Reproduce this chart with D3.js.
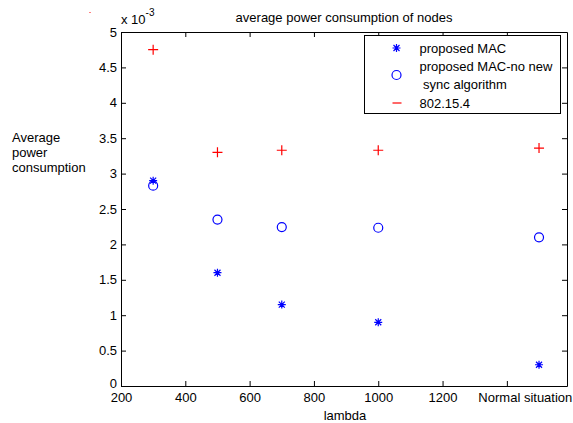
<!DOCTYPE html>
<html>
<head>
<meta charset="utf-8">
<script src="https://cdn.jsdelivr.net/npm/d3@7"></script>
<style>
  body { margin: 0; background: #fff; }
  text { font-family: Arial, "Liberation Sans", sans-serif; fill: #000; }
</style>
</head>
<body>
<svg id="chart"></svg>
<script>
(() => {

  // x positions of each case (last one is the "Normal situation" column)
  const lambdas = [300, 500, 700, 1000, 1500];
  const proposedMac = [2.90, 1.60, 1.15, 0.90, 0.30];
  const noSyncMac = [2.83, 2.35, 2.245, 2.235, 2.10];
  const ieee802154 = [4.75, 3.30, 3.33, 3.33, 3.36];

  const xTicks = [200, 400, 600, 800, 1000, 1200, 1400];
  const xTickLabels = ['200', '400', '600', '800', '1000', '1200', 'Normal situation'];
  const yTicks = [0, 0.5, 1, 1.5, 2, 2.5, 3, 3.5, 4, 4.5, 5];

  const svgWidth = 573;
  const svgHeight = 423;
  const margin = { top: 32, left: 121, right: 6, bottom: 37 };
  const width = svgWidth - (margin.left + margin.right);
  const height = svgHeight - (margin.top + margin.bottom);

  const svg = d3.select('#chart')
    .attr('width', svgWidth)
    .attr('height', svgHeight);

  const g = svg.append('g')
    .attr('transform', `translate(${margin.left}, ${margin.top})`);

  const xScale = d3.scaleLinear()
    .domain([200, 1587])
    .range([0, width]);

  const yScale = d3.scaleLinear()
    .domain([0, 5])
    .range([height, 0]);

  // box + inward ticks
  const xAxis = g.append('g')
    .attr('transform', `translate(0, ${height})`)
    .call(d3.axisBottom(xScale).tickValues(xTicks).tickSizeInner(-5).tickSizeOuter(0)
      .tickPadding(4).tickFormat((d, i) => xTickLabels[i]));
  xAxis.selectAll('text').attr('font-size', 13).attr('dy', '0.9em');
  // the last label starts left of its tick, as in the original
  xAxis.selectAll('.tick').filter((d, i) => i === xTicks.length - 1)
    .select('text').attr('text-anchor', 'start').attr('x', -29);

  const yAxis = g.append('g')
    .call(d3.axisLeft(yScale).tickValues(yTicks).tickSizeInner(-5).tickSizeOuter(0)
      .tickPadding(4).tickFormat(d3.format('')));
  yAxis.selectAll('text').attr('font-size', 13);
  yAxis.selectAll('.tick').filter(d => d === 0).select('text').attr('dy', '0.1em');

  g.append('g')
    .call(d3.axisTop(xScale).tickValues(xTicks).tickSizeInner(-5).tickSizeOuter(0).tickFormat(''));
  g.append('g')
    .attr('transform', `translate(${width}, 0)`)
    .call(d3.axisRight(yScale).tickValues(yTicks).tickSizeInner(-5).tickSizeOuter(0).tickFormat(''));

  g.selectAll('.domain').attr('stroke', '#000').attr('stroke-width', 1);
  g.selectAll('.tick line').attr('stroke', '#000');
  g.selectAll('text').attr('font-family', 'Arial, "Liberation Sans", sans-serif');

  // markers
  const star = (sel, color) => {
    sel.append('path')
      .attr('d', 'M-4,0H4M0,-4V4M-3,-3L3,3M-3,3L3,-3')
      .attr('stroke', color).attr('stroke-width', 1.2).attr('fill', 'none');
  };
  const plus = (sel, color) => {
    sel.append('path')
      .attr('d', 'M-5,0H5M0,-5V5')
      .attr('stroke', color).attr('stroke-width', 1.2).attr('fill', 'none');
  };
  const circle = (sel, color) => {
    sel.append('circle').attr('r', 4.5)
      .attr('stroke', color).attr('stroke-width', 1.2).attr('fill', 'none');
  };

  const series = [
    { name: 'proposed MAC', values: proposedMac, color: '#0000ff', marker: star },
    { name: 'proposed MAC-no new', values: noSyncMac, color: '#0000ff', marker: circle },
    { name: '802.15.4', values: ieee802154, color: '#ff0000', marker: plus }
  ];

  series.forEach(s => {
    g.selectAll(null)
      .data(s.values)
      .enter()
      .append('g')
      .attr('transform', (d, i) => `translate(${xScale(lambdas[i])},${yScale(d)})`)
      .each(function() { s.marker(d3.select(this), s.color); });
  });

  // legend
  const legend = svg.append('g').attr('transform', 'translate(364.5, 35.5)');
  legend.append('rect')
    .attr('width', 196).attr('height', 78)
    .attr('fill', '#fff').attr('stroke', '#000');
  const rows = [
    { y: 12.5, lines: ['proposed MAC'], s: series[0] },
    { y: 39.5, lines: ['proposed MAC-no new', ' sync algorithm'], s: series[1] },
    { y: 67.5, lines: ['802.15.4'], s: null }
  ];
  rows.forEach(r => {
    const item = legend.append('g');
    if (r.s) {
      item.append('g').attr('transform', `translate(32, ${r.y})`)
        .each(function() { r.s.marker(d3.select(this), r.s.color); });
    } else {
      item.append('path').attr('d', `M28,${r.y}H37`)
        .attr('stroke', '#ff0000').attr('stroke-width', 1.2);
    }
    const t = item.append('text')
      .attr('x', 55).attr('font-size', 13);
    const first = r.lines.length > 1 ? r.y - 8.5 : r.y;
    r.lines.forEach((line, i) => {
      t.append('tspan').attr('x', 55).attr('y', first + i * 17.5)
        .attr('dy', '0.35em').attr('xml:space', 'preserve').text(line);
    });
  });

  // texts
  svg.append('text')
    .attr('x', margin.left + width / 2).attr('y', 17).attr('dy', '0.35em')
    .attr('text-anchor', 'middle').attr('font-size', 13)
    .text('average power consumption of nodes');

  svg.append('text')
    .attr('x', 345).attr('y', 415).attr('dy', '0.35em')
    .attr('text-anchor', 'middle').attr('font-size', 13)
    .text('lambda');

  const yLabel = svg.append('text').attr('font-size', 13);
  ['Average', 'power', 'consumption'].forEach((line, i) => {
    yLabel.append('tspan').attr('x', 12).attr('y', 137 + i * 15)
      .attr('dy', '0.35em').text(line);
  });

  const exp = svg.append('text').attr('x', 121).attr('y', 24).attr('font-size', 13);
  exp.append('tspan').text('x 10');
  exp.append('tspan').attr('dy', -8).attr('font-size', 10).text('-3');

  // stray red pixel in the original export
  svg.append('rect').attr('x', 89.5).attr('y', 12).attr('width', 1).attr('height', 1)
    .attr('fill', '#ff0000');

})();
</script>
</body>
</html>
